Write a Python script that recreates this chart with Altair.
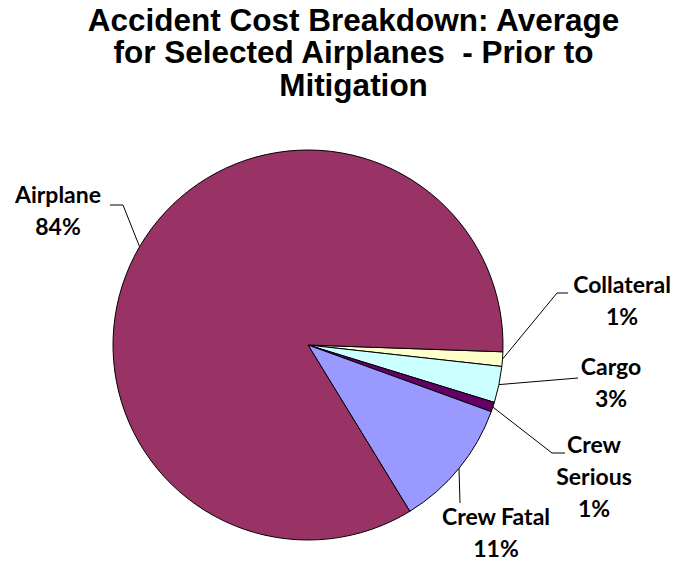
import math
import altair as alt
import pandas as pd

# ---- data ----
categories = ["Collateral", "Cargo", "Crew Serious", "Crew Fatal", "Airplane"]
shares = [1.2, 3.0, 0.8, 10.7, 84.3]
label_lines = [["Collateral"], ["Cargo"], ["Crew", "Serious"], ["Crew Fatal"], ["Airplane"]]
colors = ["#FFFFCC", "#CCFFFF", "#660066", "#9999FF", "#993366"]
title_lines = ["Accident Cost Breakdown: Average",
               "for Selected Airplanes\u00a0 - Prior to",
               "Mitigation"]

# ---- layout (page pixels) ----
W, H = 677, 563
TOP = 125
CX, CY, R = 308, 345, 195
START = math.radians(92.0)
LINE_H = 32
label_anchor = {  # centre x, first baseline y
    "Collateral": (622, 293),
    "Cargo": (611, 375),
    "Crew Serious": (594, 453),
    "Crew Fatal": (496, 525),
    "Airplane": (58, 203),
}
leader_bends = {  # points after the pie edge
    "Collateral": [(557, 293), (568, 293)],
    "Cargo": [(578, 378)],
    "Crew Serious": [(552, 453), (565, 453)],
    "Crew Fatal": [(460, 503)],
    "Airplane": [(123, 205), (110, 205)],
}

total = sum(shares)
pie_df = pd.DataFrame({"category": categories, "share": shares,
                       "order": list(range(len(categories)))})

# leader lines: from the middle of each slice on the rim to the label
lead_rows = []
cum = 0.0
for cat, s in zip(categories, shares):
    mid = START + 2 * math.pi * (cum + s / 2) / total
    cum += s
    pts = [(CX + R * math.sin(mid), CY - R * math.cos(mid))] + leader_bends[cat]
    for i, (px, py) in enumerate(pts):
        lead_rows.append({"category": cat, "seq": i, "px": px, "py": py})
lead_df = pd.DataFrame(lead_rows)

# label text lines
text_rows = []
for cat, s, lines in zip(categories, shares, label_lines):
    ax, ay = label_anchor[cat]
    for i, t in enumerate(lines + [f"{round(s)}%"]):
        text_rows.append({"category": cat, "txt": t, "px": ax, "py": ay + i * LINE_H})
text_df = pd.DataFrame(text_rows)

xs = alt.Scale(domain=[0, W], range=[0, W], nice=False, zero=False)
ys = alt.Scale(domain=[TOP, H], range=[0, H - TOP], nice=False, zero=False)

pie = alt.Chart(pie_df).mark_arc(outerRadius=R, stroke="black", strokeWidth=1).encode(
    theta=alt.Theta("share:Q", stack=True,
                    scale=alt.Scale(range=[START, START + 2 * math.pi])),
    color=alt.Color("category:N", scale=alt.Scale(domain=categories, range=colors),
                    legend=None),
    order=alt.Order("order:Q"),
    x=alt.value(CX),
    y=alt.value(CY - TOP),
)

leaders = alt.Chart(lead_df).mark_line(color="black", strokeWidth=1).encode(
    x=alt.X("px:Q", scale=xs, axis=None),
    y=alt.Y("py:Q", scale=ys, axis=None),
    detail="category:N",
    order="seq:Q",
)

labels = alt.Chart(text_df).mark_text(
    font="Lato", fontWeight="bold", fontSize=23, align="center",
    baseline="alphabetic", color="black"
).encode(
    x=alt.X("px:Q", scale=xs, axis=None),
    y=alt.Y("py:Q", scale=ys, axis=None),
    text="txt:N",
)

chart = alt.layer(pie, leaders, labels).properties(
    width=W,
    height=H - TOP,
    autosize="none",
    background="white",
    padding={"top": TOP, "left": 0, "right": 0, "bottom": 0},
    title=alt.TitleParams(
        text=title_lines, font="Liberation Sans", fontSize=31.5, fontWeight="bold",
        lineHeight=32.5, color="black", anchor="middle", dx=15, offset=23,
    ),
).configure_view(strokeWidth=0, stroke="transparent")

chart.save("out.html", embed_options={"renderer": "svg", "actions": False})
